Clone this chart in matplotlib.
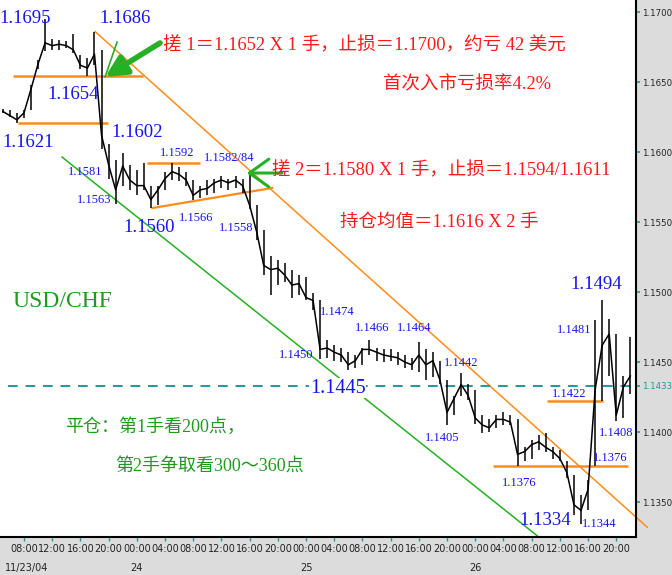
import matplotlib
matplotlib.use('Agg')
import matplotlib.pyplot as plt
import matplotlib.transforms as mtransforms
from matplotlib import font_manager

# hourly bars, x = hours counted from 11/23/04 00:00
hours = list(range(5, 95))
highs = [1.1631, 1.1630, 1.1628, 1.1630, 1.1648, 1.1666, 1.1695, 1.1681, 1.1680, 1.1679,
         1.1684, 1.1669, 1.1667, 1.1686, 1.1673, 1.1606, 1.1594, 1.1599, 1.1591, 1.1587,
         1.1592, 1.1576, 1.1576, 1.1586, 1.1592, 1.1589, 1.1586, 1.1580, 1.1576, 1.1580,
         1.1581, 1.1583, 1.1581, 1.1583, 1.1581, 1.1584, 1.1562, 1.1544, 1.1526, 1.1523,
         1.1521, 1.1516, 1.1512, 1.1511, 1.1499, 1.1494, 1.1466, 1.1462, 1.1460, 1.1457,
         1.1455, 1.1460, 1.1466, 1.1460, 1.1459, 1.1459, 1.1457, 1.1455, 1.1453, 1.1464,
         1.1459, 1.1457, 1.1451, 1.1437, 1.1426, 1.1442, 1.1434, 1.1430, 1.1412, 1.1409,
         1.1412, 1.1414, 1.1412, 1.1409, 1.1389, 1.1394, 1.1398, 1.1399, 1.1389, 1.1387,
         1.1379, 1.1369, 1.1355, 1.1366, 1.1480, 1.1494, 1.1481, 1.1470, 1.1440, 1.1468]
lows = [1.1628, 1.1625, 1.1621, 1.1624, 1.1630, 1.1659, 1.1672, 1.1673, 1.1673, 1.1674,
        1.1671, 1.1659, 1.1654, 1.1662, 1.1602, 1.1581, 1.1563, 1.1576, 1.1573, 1.1569,
        1.1573, 1.1560, 1.1562, 1.1573, 1.1580, 1.1579, 1.1576, 1.1566, 1.1567, 1.1569,
        1.1571, 1.1574, 1.1573, 1.1574, 1.1571, 1.1559, 1.1537, 1.1512, 1.1498, 1.1505,
        1.1507, 1.1496, 1.1498, 1.1494, 1.1487, 1.1452, 1.1453, 1.1451, 1.1450, 1.1444,
        1.1446, 1.1448, 1.1455, 1.1451, 1.1450, 1.1451, 1.1448, 1.1446, 1.1444, 1.1443,
        1.1437, 1.1439, 1.1434, 1.1405, 1.1412, 1.1426, 1.1423, 1.1406, 1.1399, 1.1400,
        1.1403, 1.1405, 1.1405, 1.1376, 1.1379, 1.1381, 1.1387, 1.1386, 1.1381, 1.1379,
        1.1367, 1.1341, 1.1334, 1.1344, 1.1376, 1.1422, 1.1440, 1.1408, 1.1410, 1.1427]
closes = [1.1629, 1.1626, 1.1623, 1.1628, 1.1645, 1.1663, 1.1678, 1.1676, 1.1677, 1.1676,
          1.1673, 1.1662, 1.1660, 1.1670, 1.1612, 1.1591, 1.1573, 1.1590, 1.1580, 1.1576,
          1.1576, 1.1566, 1.1573, 1.1581, 1.1586, 1.1584, 1.1580, 1.1569, 1.1573, 1.1574,
          1.1578, 1.1580, 1.1578, 1.1580, 1.1576, 1.1562, 1.1543, 1.1519, 1.1516, 1.1517,
          1.1512, 1.1505, 1.1506, 1.1496, 1.1494, 1.1459, 1.1460, 1.1457, 1.1455, 1.1448,
          1.1451, 1.1459, 1.1459, 1.1457, 1.1455, 1.1454, 1.1453, 1.1450, 1.1448, 1.1455,
          1.1448, 1.1451, 1.1437, 1.1414, 1.1424, 1.1434, 1.1426, 1.1410, 1.1405, 1.1403,
          1.1409, 1.1409, 1.1407, 1.1384, 1.1386, 1.1391, 1.1393, 1.1389, 1.1386, 1.1381,
          1.1371, 1.1348, 1.1344, 1.1359, 1.1430, 1.1462, 1.1470, 1.1412, 1.1432, 1.1440]

tick_hours = [8, 12, 16, 20, 24, 28, 32, 36, 40, 44, 48, 52, 56, 60, 64, 68, 72, 76, 80, 84, 88, 92]
tick_labels = ['08:00', '12:00', '16:00', '20:00', '00:00', '04:00', '08:00', '12:00', '16:00', '20:00',
               '00:00', '04:00', '08:00', '12:00', '16:00', '20:00', '00:00', '04:00', '08:00', '12:00',
               '16:00', '20:00']
day_hours = [5.3, 24, 48, 72]
day_labels = ['11/23/04', '24', '25', '26']
price_ticks = [1.1350, 1.1400, 1.1450, 1.1500, 1.1550, 1.1600, 1.1650, 1.1700]
ref_level = 1.1433

# support / resistance lines drawn on the chart
h_levels = [(1.1654, 6.4, 24.9), (1.1621, 7.2, 19.9), (1.1592, 25.4, 33.0),
            (1.1376, 74.5, 93.7), (1.1422, 82.2, 90.1)]
rising_line = ([26.2, 43.2], [1.1560, 1.15743])
falling_line = ([18.1, 96.4], [1.1686, 1.1332])
channel_line = ([13.4, 82.0], [1.15964, 1.1321])

names = {f.name for f in font_manager.fontManager.ttflist}
tick_font = 'Liberation Sans Narrow' if 'Liberation Sans Narrow' in names else 'DejaVu Sans'
serif = 'Liberation Serif'
cjk = [serif, 'Noto Sans CJK SC', 'DejaVu Sans']

blue = '#1414f5'
red = '#ff1a1a'
orange = '#ff8c1a'
green = '#25b025'
gtext = '#1f9a1f'
teal = '#1f9a9a'

fig = plt.figure(figsize=(6.72, 5.75), dpi=100, facecolor='#dcdcdc')
ax = fig.add_axes([0, 38 / 575, 636 / 672, 537 / 575])
ax.set_facecolor('white')
ax.set_xlim(4.6, 94.8)
ax.set_ylim(1.1325, 1.17086)

# overlays
for lvl, a, b in h_levels:
    ax.hlines(lvl, a, b, color=orange, lw=1.8, zorder=2)
ax.plot(*rising_line, color=orange, lw=1.6, zorder=2)
ax.plot(*falling_line, color=orange, lw=1.1, zorder=2, clip_on=False)
ax.plot(*channel_line, color=green, lw=1.1, zorder=2)
ax.hlines(ref_level, 5.7, 94.8, color=teal, lw=1.4, linestyles=(0, (5, 4)), zorder=2)

# price bars
ax.vlines(hours, lows, highs, color='black', lw=1.1, zorder=3)
ax.plot(hours, closes, color='black', lw=1.1, zorder=3)

# arrows
ax.annotate('', xy=(19.5, 1.16536), xytext=(27.3, 1.16779),
            arrowprops=dict(arrowstyle='-|>,head_length=0.9,head_width=0.45', lw=4,
                            color=green, mutation_scale=14, shrinkA=0, shrinkB=0), zorder=5)
ax.plot([21.2, 19.5], [1.16786, 1.16536], color=green, lw=1.2, zorder=5)
ax.annotate('', xy=(39.6, 1.1585), xytext=(44.6, 1.1585),
            arrowprops=dict(arrowstyle='->,head_length=0.7,head_width=0.5', lw=2.2,
                            color=green, mutation_scale=20, shrinkA=0, shrinkB=0), zorder=5)

# blue price labels
big = [('1.1695', 8.1, 1.16957), ('1.1686', 22.3, 1.16957), ('1.1654', 14.95, 1.16414),
       ('1.1621', 8.6, 1.16071), ('1.1602', 24.0, 1.16136), ('1.1560', 25.7, 1.15464),
       ('1.1494', 89.1, 1.15057), ('1.1334', 81.9, 1.13371)]
for s, x, y in big:
    ax.text(x, y, s, color=blue, fontsize=13.5, family=serif, ha='center', va='center', zorder=6)
ax.text(52.5, 1.14314, '1.1445', color=blue, fontsize=14.5, family=serif, ha='center', va='center',
        zorder=6, bbox=dict(facecolor='white', edgecolor='none', pad=0.5))
small = [('1.1581', 16.65, 1.15857), ('1.1563', 17.9, 1.15657), ('1.1592', 29.7, 1.15993),
         ('1.1582/84', 37.1, 1.15957), ('1.1566', 32.4, 1.15529), ('1.1558', 38.1, 1.15457),
         ('1.1474', 52.4, 1.14857), ('1.1466', 57.4, 1.14743), ('1.1464', 63.3, 1.14743),
         ('1.1450', 46.6, 1.1455), ('1.1442', 70.0, 1.14493), ('1.1405', 67.3, 1.13957),
         ('1.1376', 78.2, 1.13636), ('1.1422', 85.3, 1.14271), ('1.1481', 86.0, 1.14729),
         ('1.1408', 92.0, 1.13993), ('1.1376', 91.1, 1.13814), ('1.1344', 89.6, 1.13343)]
for s, x, y in small:
    ax.text(x, y, s, color=blue, fontsize=9, family=serif, ha='center', va='center', zorder=6)

# comments
ax.text(27.7, 1.16764, '搓 1＝1.1652 X 1 手，止损＝1.1700，约亏 42 美元', color=red,
        fontsize=13.3, family=cjk, va='center', zorder=6)
ax.text(58.9, 1.16479, '首次入市亏损率4.2%', color=red, fontsize=13.3, family=cjk, va='center', zorder=6)
ax.text(43.2, 1.15871, '搓 2＝1.1580 X 1 手，止损＝1.1594/1.1611', color=red,
        fontsize=13.3, family=cjk, va='center', zorder=6)
ax.text(52.8, 1.1550, '持仓均值＝1.1616 X 2 手', color=red, fontsize=13.3, family=cjk,
        va='center', zorder=6)
ax.text(6.3, 1.14929, 'USD/CHF', color=gtext, fontsize=17, family=serif, va='center', zorder=6)
ax.text(13.8, 1.14036, '平仓：第1手看200点，', color=gtext, fontsize=13, family=cjk,
        va='center', zorder=6)
ax.text(20.9, 1.1375, '第2手争取看300～360点', color=gtext, fontsize=13, family=cjk,
        va='center', zorder=6)

# axes
for side in ['left', 'top']:
    ax.spines[side].set_visible(False)
for side in ['right', 'bottom']:
    ax.spines[side].set_linewidth(1.5)
    ax.spines[side].set_color('black')

ax.yaxis.tick_right()
ax.set_yticks(price_ticks + [ref_level])
ax.set_yticklabels(['%.4f' % v for v in price_ticks + [ref_level]],
                   family=tick_font, fontsize=6.2, color='#222222')
ax.get_yticklabels()[-1].set_color(teal)
ax.tick_params(axis='y', length=3, width=1.2, color=teal, pad=1)

ax.set_xticks(tick_hours)
ax.set_xticklabels(tick_labels, family=tick_font, fontsize=7, color='#222222')
ax.tick_params(axis='x', length=3, width=1, color=teal, pad=2)

trans = mtransforms.blended_transform_factory(ax.transData, ax.transAxes)
for h, s in zip(day_hours, day_labels):
    ax.text(h, -0.058, s, transform=trans, family=tick_font, fontsize=7, color='#222222',
            ha='left' if s.startswith('11') else 'center', va='center')

fig.savefig('out.png', dpi=100, facecolor=fig.get_facecolor())
